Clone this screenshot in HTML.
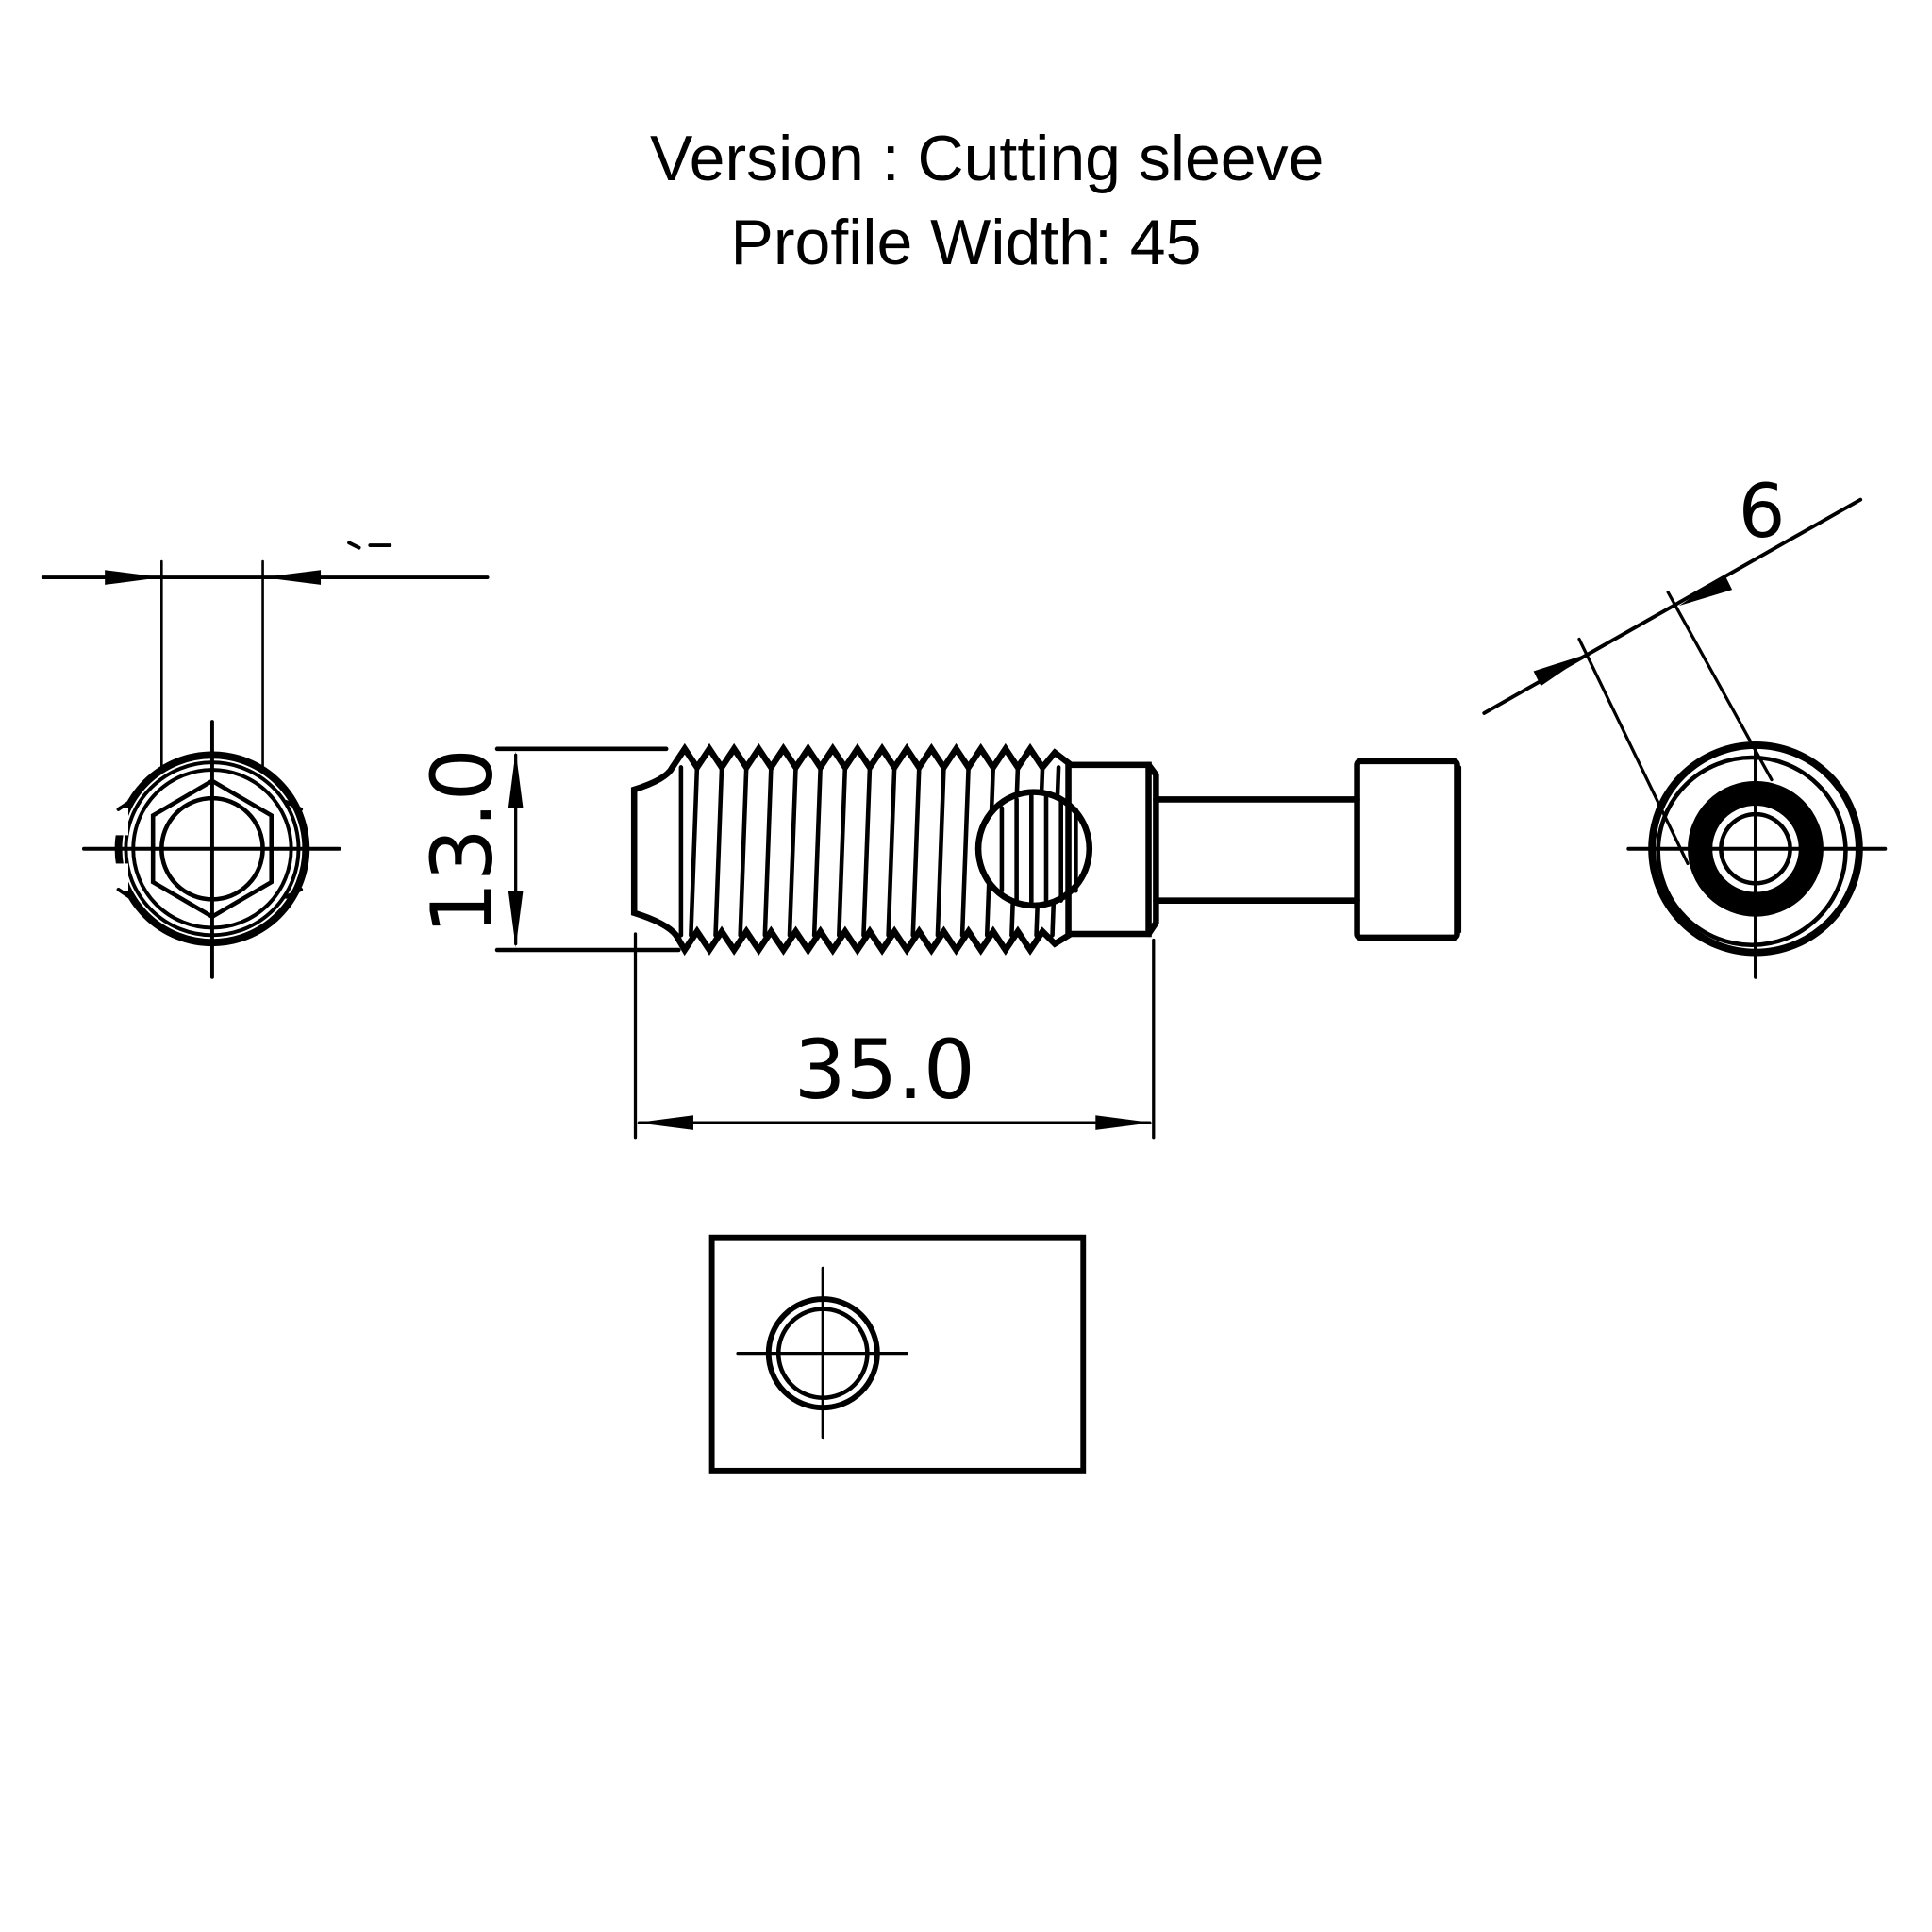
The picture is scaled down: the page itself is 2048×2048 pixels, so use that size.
<!DOCTYPE html>
<html><head><meta charset="utf-8"><style>html,body{margin:0;padding:0;background:#fff}svg{display:block}</style></head>
<body>
<svg width="2048" height="2048" viewBox="0 0 1566 1566" xmlns="http://www.w3.org/2000/svg" font-family="Liberation Sans, DejaVu Sans, sans-serif">
<rect width="1566" height="1566" fill="#fff"/>
<text x="800" y="146" font-size="52" text-anchor="middle" font-family="Liberation Sans, sans-serif">Version : Cutting sleeve</text>
<text x="783" y="214" font-size="52" text-anchor="middle" font-family="Liberation Sans, sans-serif">Profile Width: 45</text>

<g stroke="#000" fill="none" stroke-linecap="round">
<!-- left view -->
<line x1="35" y1="468" x2="395" y2="468" stroke-width="3"/>
<line x1="131" y1="455" x2="131" y2="625" stroke-width="2"/>
<line x1="213" y1="455" x2="213" y2="625" stroke-width="2"/>
<polygon points="131,468 85,462 85,474" fill="#000" stroke="none"/>
<polygon points="213,468 260,462 260,474" fill="#000" stroke="none"/>
<path d="M283,440 l8,4 M300,442 l16,0" stroke-width="3"/>
<circle cx="172" cy="688" r="76" stroke-width="6"/>
<circle cx="172" cy="688" r="70" stroke-width="3"/>
<circle cx="172" cy="688" r="64" stroke-width="3"/>
<polygon points="172,633 220,661 220,715 172,743 124,715 124,661" stroke-width="3.5"/>
<circle cx="172" cy="688" r="41" stroke-width="3.5"/>
<line x1="68" y1="688" x2="275" y2="688" stroke-width="3"/>
<line x1="172" y1="585" x2="172" y2="792" stroke-width="3"/>
<rect x="92" y="655" width="12" height="22" fill="#fff" stroke="none"/>
<rect x="92" y="700" width="12" height="22" fill="#fff" stroke="none"/>
<path d="M96,656 l12,-8 M96,721 l12,8 M244,656 l-12,-6 M244,721 l-12,6" stroke-width="3"/>

<!-- middle -->
<line x1="403" y1="607" x2="540" y2="607" stroke-width="3.5"/>
<line x1="403" y1="770" x2="550" y2="770" stroke-width="3.5"/>
<line x1="418" y1="612" x2="418" y2="765" stroke-width="2.5"/>
<polygon points="418,609 412,655 424,655" fill="#000" stroke="none"/>
<polygon points="418,768 412,722 424,722" fill="#000" stroke="none"/>
<path d="M545,622 Q540,632 514,640 L514,740 Q540,748 548,758" stroke-width="5"/>
<polyline points="545,622 555,607 565,622 575,607 585,622 595,607 605,622 615,607 625,622 635,607 645,622 655,607 665,622 675,607 685,622 695,607 705,622 715,607 725,622 735,607 745,622 755,607 765,622 775,607 785,622 795,607 805,622 815,607 825,622 835,607 845,622 855,610 868,620" stroke-width="5" stroke-linejoin="miter"/>
<polyline points="548,758 555,770 565,755 575,770 585,755 595,770 605,755 615,770 625,755 635,770 645,755 655,770 665,755 675,770 685,755 695,770 705,755 715,770 725,755 735,770 745,755 755,770 765,755 775,770 785,755 795,770 805,755 815,770 825,755 835,770 845,755 855,765 868,757" stroke-width="5" stroke-linejoin="miter"/>
<path d="M552,622 L552,758 M565,622 L560,758 M585,622 L580,758 M605,622 L600,758 M625,622 L620,758 M645,622 L640,758 M665,622 L660,758 M685,622 L680,758 M705,622 L700,758 M725,622 L720,758 M745,622 L740,758 M765,622 L760,758 M785,622 L780,758 M805,622 L800,758 M825,622 L820,758 M845,622 L840,758 M858,622 L853,758 M866,620 L866,757" stroke-width="3.5"/>
<ellipse cx="838" cy="688" rx="45" ry="46" fill="#fff" stroke-width="5"/>
<path d="M812,655 V722 M824,648 V730 M836,645 V732 M848,645 V732 M860,648 V730 M872,656 V722" stroke-width="3.5"/>
<rect x="866" y="620" width="65" height="137" stroke-width="5"/>
<path d="M931,620 l6,8 V748 l-6,9" stroke-width="5"/>
<line x1="937" y1="648" x2="1100" y2="648" stroke-width="5"/>
<line x1="937" y1="730" x2="1100" y2="730" stroke-width="5"/>
<rect x="1100" y="617" width="81" height="143" rx="3" stroke-width="5"/>
<line x1="1183" y1="622" x2="1183" y2="755" stroke-width="3"/>
<line x1="515" y1="757" x2="515" y2="922" stroke-width="2.5"/>
<line x1="935" y1="762" x2="935" y2="922" stroke-width="2.5"/>
<line x1="518" y1="910" x2="932" y2="910" stroke-width="2.5"/>
<polygon points="516,910 562,904 562,916" fill="#000" stroke="none"/>
<polygon points="934,910 888,904 888,916" fill="#000" stroke="none"/>

<!-- bottom -->
<rect x="577" y="1003" width="301" height="189" stroke-width="4.5"/>
<circle cx="667" cy="1097" r="44" stroke-width="4.5"/>
<circle cx="667" cy="1097" r="36" stroke-width="3.5"/>
<line x1="598" y1="1097" x2="735" y2="1097" stroke-width="2.5"/>
<line x1="667" y1="1028" x2="667" y2="1165" stroke-width="2.5"/>

<!-- right view -->
<line x1="1203" y1="578" x2="1508" y2="405" stroke-width="3"/>
<line x1="1280" y1="518" x2="1368" y2="700" stroke-width="2.5"/>
<line x1="1352" y1="480" x2="1436" y2="632" stroke-width="2.5"/>
<polygon points="1287,530 1243,544 1249,556" fill="#000" stroke="none"/>
<polygon points="1361,491 1398,466 1404,478" fill="#000" stroke="none"/>
<circle cx="1423" cy="688" r="84" stroke-width="6"/>
<circle cx="1420" cy="690" r="76" stroke-width="3.5"/>
<circle cx="1423" cy="688" r="45" stroke-width="20"/>
<circle cx="1423" cy="688" r="28" stroke-width="3.5"/>
<line x1="1320" y1="688" x2="1528" y2="688" stroke-width="3"/>
<line x1="1423" y1="605" x2="1423" y2="792" stroke-width="3"/>
</g>
<text x="0" y="0" font-size="68" text-anchor="middle" transform="translate(398,682) rotate(-90)" font-family="DejaVu Sans, Liberation Sans, sans-serif">13.0</text>
<text x="717" y="890" font-size="66" text-anchor="middle" font-family="DejaVu Sans, Liberation Sans, sans-serif">35.0</text>
<text x="1428" y="435" font-size="60" text-anchor="middle" font-family="DejaVu Sans, Liberation Sans, sans-serif">6</text>
</svg>
</body></html>
